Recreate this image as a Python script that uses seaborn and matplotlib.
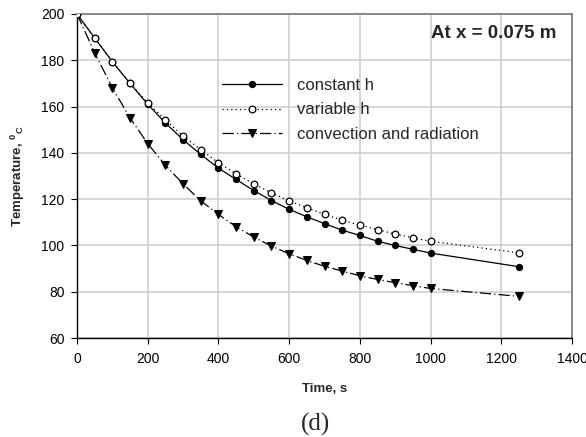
import matplotlib
matplotlib.use("Agg")
import matplotlib.pyplot as plt
import seaborn as sns
import pandas as pd

time_s = [0, 50, 100, 150, 200, 250, 300, 350, 400, 450, 500, 550, 600,
          650, 700, 750, 800, 850, 900, 950, 1000, 1250]
constant_h = [200, 189.6, 179.4, 170.0, 161.0, 152.9, 145.7, 139.3, 133.4, 128.5,
              123.7, 119.4, 115.6, 112.4, 109.4, 106.6, 104.3, 101.8, 100.0,
              98.3, 96.7, 90.8]
variable_h = [200, 189.6, 179.4, 170.1, 161.6, 154.2, 147.3, 141.4, 135.7, 130.9,
              126.6, 122.7, 119.2, 116.3, 113.4, 110.9, 108.8, 106.8, 104.9,
              103.3, 101.8, 96.8]
conv_rad = [200, 183.2, 168.1, 155.1, 144.0, 134.6, 126.6, 119.3, 113.4, 108.1,
            103.6, 99.7, 96.4, 93.5, 91.0, 88.9, 86.9, 85.3, 83.9, 82.6, 81.4, 78.0]
series_names = ["constant h", "variable h", "convection and radiation"]
x_ticks = [0, 200, 400, 600, 800, 1000, 1200, 1400]
y_ticks = [60, 80, 100, 120, 140, 160, 180, 200]

sns.set_theme(style="whitegrid")
plt.rcParams["font.family"] = ["Liberation Sans", "DejaVu Sans"]
plt.rcParams["mathtext.fontset"] = "custom"
plt.rcParams["mathtext.rm"] = "Liberation Sans"
plt.rcParams["mathtext.bf"] = "Liberation Sans:bold"

fig = plt.figure(figsize=(5.86, 4.37), dpi=100)
ax = fig.add_axes([77 / 586, 1 - 338 / 437, (572 - 77) / 586, (338 - 14) / 437])

df = pd.DataFrame({"t": time_s, "c": constant_h, "v": variable_h, "r": conv_rad})

sns.lineplot(data=df, x="t", y="c", ax=ax, color="black", lw=0.9, marker="o",
             markersize=4.5, markerfacecolor="black", markeredgecolor="black",
             label=series_names[0], zorder=3)
sns.lineplot(data=df, x="t", y="v", ax=ax, color="black", lw=0.9, linestyle=(0, (1, 2.5)),
             marker="o", markersize=4.8, markerfacecolor="white", markeredgecolor="black",
             markeredgewidth=0.9, label=series_names[1], zorder=4)
sns.lineplot(data=df, x="t", y="r", ax=ax, color="black", lw=0.9,
             linestyle=(0, (9, 2.5, 1, 2.5)), marker="v", markersize=6.3,
             markerfacecolor="black", markeredgecolor="black",
             label=series_names[2], zorder=3)

ax.set_xlim(0, 1400)
ax.set_ylim(60, 200)
ax.set_xticks(x_ticks)
ax.set_yticks(y_ticks)
ax.tick_params(axis="both", labelsize=10, colors="black", length=4, width=0.8,
               direction="out")
ax.tick_params(axis="x", bottom=True, pad=6)
ax.tick_params(axis="y", left=True, pad=5)
ax.grid(True, color="#cccccc", lw=1.1)
for s in ["left", "bottom"]:
    ax.spines[s].set_color("black")
    ax.spines[s].set_linewidth(1.0)
for s in ["top", "right"]:
    ax.spines[s].set_color("#808080")
    ax.spines[s].set_linewidth(1.3)

ax.set_xlabel("Time, s", fontsize=9.5, fontweight="bold", labelpad=12)
ax.set_ylabel(r"Temperature, $\mathbf{^{0}{}_{C}}$", fontsize=9.5, fontweight="bold",
              labelpad=10)

ax.text(0.968, 0.966, "At x = 0.075 m", transform=ax.transAxes, ha="right", va="top",
        fontsize=13.5, fontweight="bold")

leg = ax.legend(loc="center left", bbox_to_anchor=(145 / 495, (338 - 110) / 324),
                frameon=False, fontsize=12, handlelength=3.6, handletextpad=0.9,
                labelspacing=0.55, borderaxespad=0, borderpad=0)

fig.text(316 / 586, 1 - 424 / 437, "(d)", ha="center", va="center",
         fontsize=18, family="Liberation Serif")

fig.savefig("out.png", dpi=100)
